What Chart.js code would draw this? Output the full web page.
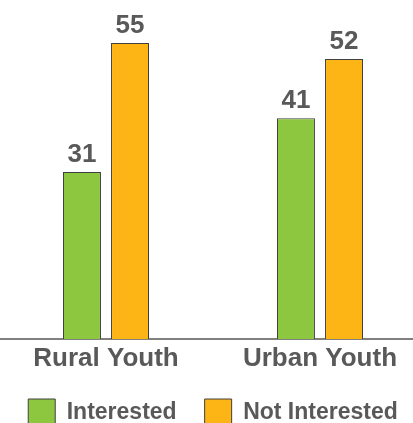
<!DOCTYPE html>
<html>
<head>
<meta charset="utf-8">
<script src="https://cdn.jsdelivr.net/npm/chart.js@4.4.0/dist/chart.umd.min.js"></script>
<style>
html, body { margin: 0; padding: 0; background: #fff; overflow: hidden; width: 413px; height: 423px; }
#chart { position: absolute; left: -1px; top: 0; }
</style>
</head>
<body>
<canvas id="chart" width="428" height="436"></canvas>
<script>
var categories = ['Rural Youth', 'Urban Youth'];
var seriesNames = ['Interested', 'Not Interested'];
var interested = [31, 41];
var notInterested = [55, 52];
var yMax = 60;

var textColor = '#595959';
var fontFamily = '"Liberation Sans", Arial, sans-serif';

// value labels above each bar
var valueLabels = {
    id: 'valueLabels',
    afterDatasetsDraw: function (chart) {
        var ctx = chart.ctx;
        ctx.save();
        ctx.font = 'bold 26px ' + fontFamily;
        ctx.fillStyle = textColor;
        ctx.textAlign = 'center';
        ctx.textBaseline = 'alphabetic';
        chart.data.datasets.forEach(function (ds, i) {
            chart.getDatasetMeta(i).data.forEach(function (bar, j) {
                ctx.fillText(ds.data[j], bar.x, bar.y - 10);
            });
        });
        ctx.restore();
    }
};

var chart = new Chart(
    document.getElementById('chart'),
    {
        type: 'bar',
        data: {
            labels: categories,
            datasets: [{
                label: seriesNames[0],
                data: interested,
                backgroundColor: '#8DC63F',
                borderColor: '#404040',
                borderWidth: 1,
                categoryPercentage: 0.449,
                barPercentage: 0.79
            }, {
                label: seriesNames[1],
                data: notInterested,
                backgroundColor: '#FDB515',
                borderColor: '#404040',
                borderWidth: 1,
                categoryPercentage: 0.449,
                barPercentage: 0.79
            }]
        },
        plugins: [valueLabels],
        options: {
            responsive: false,
            animation: false,
            devicePixelRatio: 1,
            layout: {
                padding: { left: 0, right: 0, top: 16, bottom: 0 }
            },
            scales: {
                x: {
                    grid: { display: false },
                    border: { color: '#808080', width: 2 },
                    ticks: {
                        color: textColor,
                        font: { family: fontFamily, size: 26, weight: 'bold', lineHeight: 1.08 },
                        padding: -2,
                        maxRotation: 0,
                        autoSkip: false
                    }
                },
                y: {
                    display: false,
                    min: 0,
                    max: yMax
                }
            },
            plugins: {
                tooltip: { enabled: false },
                legend: {
                    position: 'bottom',
                    labels: {
                        color: textColor,
                        font: { family: fontFamily, size: 23, weight: 'bold' },
                        boxWidth: 27,
                        boxHeight: 27,
                        padding: 28
                    }
                }
            }
        }
    }
);
</script>
</body>
</html>
